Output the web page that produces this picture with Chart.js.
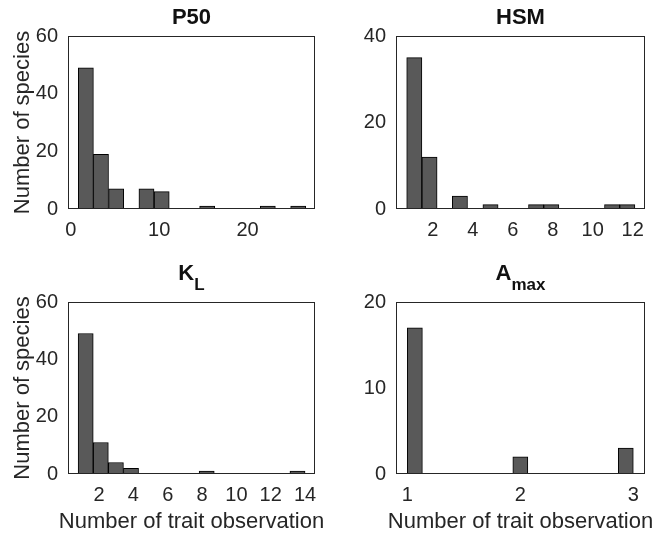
<!DOCTYPE html>
<html>
<head>
<meta charset="utf-8">
<script src="https://cdn.jsdelivr.net/npm/chart.js@4"></script>
<style>
  html, body { margin:0; padding:0; background:#fff; }
  #fig { position:relative; width:657px; height:539px; background:#fff; overflow:hidden; }
  #fig canvas { position:absolute; }
  .ttl, .xlab { position:absolute; transform:translateX(-50%); white-space:nowrap; }
  .ttl { font:bold 22px "Liberation Sans", Arial, sans-serif; line-height:22px; color:#111; }
  .ttl sub { font-size:17px; position:relative; top:10px; vertical-align:baseline; line-height:0; }
  .xlab { font:22px "Liberation Sans", Arial, sans-serif; line-height:22px; color:#262626; }
</style>
</head>
<body>
<div id="fig">
  <canvas id="cP50" width="330" height="270" style="left:0;top:0"></canvas>
  <canvas id="cHSM" width="327" height="270" style="left:330px;top:0"></canvas>
  <canvas id="cKL" width="330" height="269" style="left:0;top:270px"></canvas>
  <canvas id="cAmax" width="327" height="269" style="left:330px;top:270px"></canvas>
  <div class="ttl" style="left:191.5px;top:6px">P50</div>
  <div class="ttl" style="left:520.5px;top:6px">HSM</div>
  <div class="ttl" style="left:191.5px;top:262px">K<sub>L</sub></div>
  <div class="ttl" style="left:520.5px;top:262px">A<sub>max</sub></div>
  <div class="xlab" id="xlabKL" style="left:191.5px;top:510px"></div>
  <div class="xlab" id="xlabAmax" style="left:520.5px;top:510px"></div>
</div>
<script>
// bin centres (x) and counts per histogram
const p50Bins   = [1.70, 3.41, 5.13, 6.85, 8.56, 10.28, 12.00, 13.71, 15.43, 17.14, 18.86, 20.58, 22.29, 24.01, 25.73];
const p50Counts = [49, 19, 7, 0, 7, 6, 0, 0, 1, 0, 0, 0, 1, 0, 1];
const p50XTicks = [0, 10, 20];
const p50YTicks = [0, 20, 40, 60];

const hsmBins   = [1.08, 1.84, 2.60, 3.36, 4.12, 4.89, 5.65, 6.41, 7.17, 7.93, 8.69, 9.45, 10.21, 10.97, 11.73];
const hsmCounts = [35, 12, 0, 3, 0, 1, 0, 0, 1, 1, 0, 0, 0, 1, 1];
const hsmXTicks = [2, 4, 6, 8, 10, 12];
const hsmYTicks = [0, 20, 40];

const klBins    = [1.22, 2.10, 2.98, 3.86, 4.74, 5.63, 6.51, 7.39, 8.27, 9.15, 10.03, 10.92, 11.80, 12.68, 13.56];
const klCounts  = [49, 11, 4, 2, 0, 0, 0, 0, 1, 0, 0, 0, 0, 0, 1];
const klXTicks  = [2, 4, 6, 8, 10, 12, 14];
const klYTicks  = [0, 20, 40, 60];

const amaxBins   = [1.067, 1.2, 1.333, 1.467, 1.6, 1.733, 1.867, 2.0, 2.133, 2.267, 2.4, 2.533, 2.667, 2.8, 2.933];
const amaxCounts = [17, 0, 0, 0, 0, 0, 0, 2, 0, 0, 0, 0, 0, 0, 3];
const amaxXTicks = [1, 2, 3];
const amaxYTicks = [0, 10, 20];

const yTitle = 'Number of species';
const xTitle = 'Number of trait observation';

const FONT = '"Liberation Sans", Arial, sans-serif';
const INK = '#262626';

document.getElementById('xlabKL').textContent = xTitle;
document.getElementById('xlabAmax').textContent = xTitle;

const frame = {
  id:'frame',
  afterDraw(chart){
    const {ctx, chartArea:a} = chart;
    ctx.save(); ctx.strokeStyle = INK; ctx.lineWidth = 1;
    const l = Math.round(a.left)+0.5, t = Math.round(a.top)+0.5;
    ctx.strokeRect(l, t, Math.round(a.right)-0.5-l, Math.round(a.bottom)-0.5-t);
    ctx.restore();
  }
};

function makePanel(id, bins, counts, xr, xt, yt, o){
  return new Chart(document.getElementById(id), {
    type:'bar',
    data:{ datasets:[{ data: bins.map((x,i)=>({x, y:counts[i]})), backgroundColor:'#595959', borderColor:'#000', borderWidth:1, borderSkipped:false, barPercentage:1, categoryPercentage:1 }] },
    options:{
      responsive:false, animation:false, events:[],
      layout:{ padding:{ top:o.top, right:o.right, left:0, bottom:0 } },
      plugins:{ legend:{display:false}, tooltip:{enabled:false} },
      scales:{
        x:{ type:'linear', min:xr[0], max:xr[1], offset:false,
            grid:{display:false, drawTicks:false}, border:{display:false},
            afterBuildTicks: s => { s.ticks = xt.map(v=>({value:v})); },
            afterFit: s => { s.height = o.xh; },
            ticks:{ color:INK, font:{family:FONT, size:20}, padding:9, maxRotation:0, autoSkip:false } },
        y:{ min:0, max:yt[yt.length-1],
            grid:{display:false, drawTicks:false}, border:{display:false},
            afterBuildTicks: s => { s.ticks = yt.map(v=>({value:v})); },
            afterFit: s => { s.width = o.yw; },
            ticks:{ color:INK, font:{family:FONT, size:20}, padding:10 },
            title:{ display:!!o.yTitle, text:o.yTitle || '', color:INK, font:{family:FONT, size:22}, padding:{top:10, bottom:0} } }
      }
    },
    plugins:[frame]
  });
}

makePanel('cP50', p50Bins, p50Counts, [-0.32, 27.63], p50XTicks, p50YTicks, {top:36, right:15, xh:61, yw:68, yTitle});
makePanel('cHSM', hsmBins, hsmCounts, [0.165, 12.615], hsmXTicks, hsmYTicks, {top:36, right:12, xh:61, yw:66});
makePanel('cKL', klBins, klCounts, [0.19, 14.58], klXTicks, klYTicks, {top:32, right:15, xh:65, yw:68, yTitle});
makePanel('cAmax', amaxBins, amaxCounts, [0.9, 3.103], amaxXTicks, amaxYTicks, {top:32, right:12, xh:65, yw:66});
</script>
</body>
</html>
